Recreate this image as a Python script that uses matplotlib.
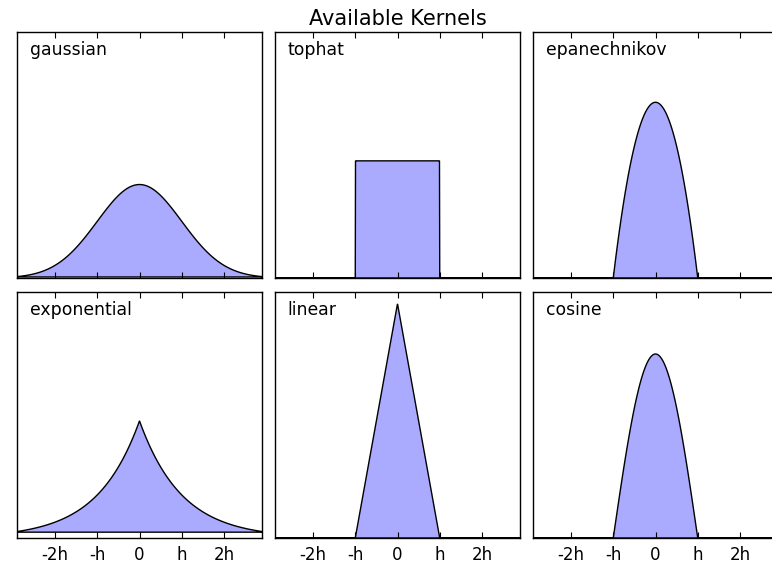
import numpy as np
import matplotlib
matplotlib.use("Agg")
import matplotlib.pyplot as plt

# kernel names, in panel order
kernels = ["gaussian", "tophat", "epanechnikov", "exponential", "linear", "cosine"]
tick_pos = [-2, -1, 0, 1, 2]
tick_labels = ["-2h", "-h", "0", "h", "2h"]
h = 1.0  # bandwidth


def kernel_density(name, x):
    # normalised kernel shapes with bandwidth h
    u = np.abs(x) / h
    if name == "gaussian":
        return np.exp(-0.5 * u ** 2) / np.sqrt(2 * np.pi) / h
    if name == "tophat":
        return np.where(u < 1, 0.5, 0.0) / h
    if name == "epanechnikov":
        return np.where(u < 1, 0.75 * (1 - u ** 2), 0.0) / h
    if name == "exponential":
        return 0.5 * np.exp(-u) / h
    if name == "linear":
        return np.where(u < 1, 1 - u, 0.0) / h
    if name == "cosine":
        return np.where(u < 1, np.pi / 4 * np.cos(np.pi / 2 * u), 0.0) / h


x_grid = np.linspace(-3, 3, 1000)

fig = plt.figure(figsize=(7.72, 5.66), dpi=100)
W, H = 772.0, 566.0
lefts = [17, 275, 533]
tops = [32, 292]
aw, ah = 245, 246

for i, kernel in enumerate(kernels):
    r, c = divmod(i, 3)
    axi = fig.add_axes([lefts[c] / W, 1 - (tops[r] + ah) / H, aw / W, ah / H])
    dens = kernel_density(kernel, x_grid)
    axi.fill(x_grid, dens, fc="#AAAAFF", ec="k", lw=1)
    axi.text(-2.6, 0.95, kernel, fontsize=12.4)
    axi.set_xticks(tick_pos)
    if r == 1:
        axi.set_xticklabels(tick_labels, fontsize=12)
    else:
        axi.set_xticklabels([])
    axi.set_yticks([])
    axi.tick_params(axis="x", direction="in", top=True, bottom=True, length=4, width=0.8, pad=6)
    axi.set_ylim(0, 1.05)
    axi.set_xlim(-2.9, 2.9)
    for s in axi.spines.values():
        s.set_linewidth(1.0)
    if i == 1:
        axi.set_title("Available Kernels", fontsize=15, pad=5)

fig.savefig("out.png", dpi=100)
